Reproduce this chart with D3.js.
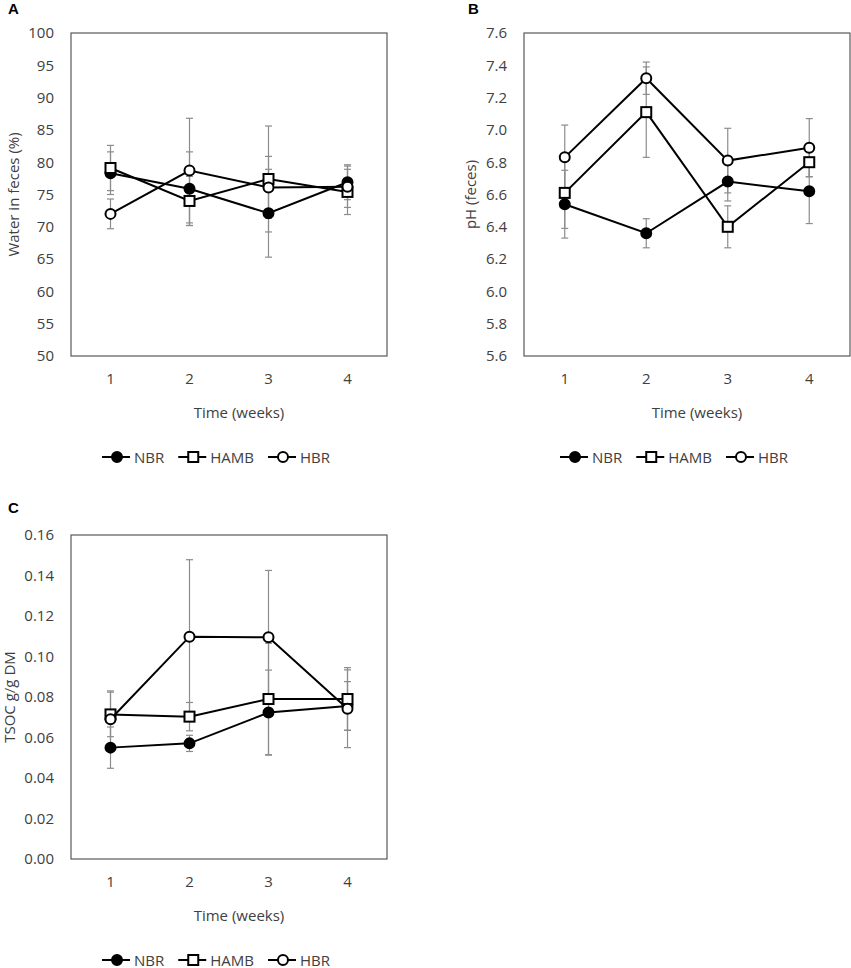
<!DOCTYPE html>
<html lang="en">
  <head>
    <meta charset="utf-8">
    <title>Feces water, pH and TSOC over time</title>
    <script type="text/javascript" src="https://cdnjs.cloudflare.com/ajax/libs/d3/7.8.5/d3.min.js"></script>
    <style>
      body { margin: 0; background: #fff; }
      svg text { font-family: "Open Sans", sans-serif; fill: #404040; }
      .panelTag { font-family: "Liberation Sans", Arial, sans-serif; font-weight: bold; fill: #000; }
    </style>
  </head>
  <body>
    <div id="chartDiv"></div>
    <script>
      var weeks = [1, 2, 3, 4]
      var seriesNames = ["NBR", "HAMB", "HBR"]

      // panel A - water in feces (%)
      var waterNBR = [78.3, 75.9, 72.1, 76.9]
      var waterHAMB = [79.1, 74.0, 77.4, 75.4]
      var waterHBR = [72.0, 78.7, 76.1, 76.2]
      var waterErrNBR = [3.3, 5.7, 6.8, 2.7]
      var waterErrHAMB = [3.5, 3.8, 8.2, 3.5]
      var waterErrHBR = [2.3, 8.1, 4.8, 3.2]
      var waterTicks = [50, 55, 60, 65, 70, 75, 80, 85, 90, 95, 100]

      // panel B - pH
      var phNBR = [6.54, 6.36, 6.68, 6.62]
      var phHAMB = [6.61, 7.11, 6.40, 6.80]
      var phHBR = [6.83, 7.32, 6.81, 6.89]
      var phErrNBR = [0.21, 0.09, 0.12, 0.20]
      var phErrHAMB = [0.22, 0.28, 0.13, 0.09]
      var phErrHBR = [0.20, 0.10, 0.20, 0.18]
      var phTicks = [5.6, 5.8, 6.0, 6.2, 6.4, 6.6, 6.8, 7.0, 7.2, 7.4, 7.6]

      // panel C - TSOC
      var tsocNBR = [0.055, 0.0571, 0.0723, 0.0756]
      var tsocHAMB = [0.0714, 0.0703, 0.079, 0.079]
      var tsocHBR = [0.069, 0.1098, 0.1095, 0.0742]
      var tsocErrNBR = [0.0102, 0.004, 0.021, 0.012]
      var tsocErrHAMB = [0.011, 0.007, 0.0275, 0.0155]
      var tsocErrHBR = [0.014, 0.038, 0.033, 0.0192]
      var tsocTicks = [0, 0.02, 0.04, 0.06, 0.08, 0.10, 0.12, 0.14, 0.16]

      var svg = d3.select("#chartDiv")
          .append("svg")
          .attr("width", 851)
          .attr("height", 968)

      var drawPanel = function(p) {
        var xScale = d3.scaleBand()
                       .domain(weeks)
                       .range([p.left, p.right])
        var yScale = d3.scaleLinear()
                       .domain([p.ticks[0], p.ticks[p.ticks.length - 1]])
                       .range([p.bottom, p.top])
        var cx = function(i) { return xScale(weeks[i]) + xScale.bandwidth() / 2 }

        var g = svg.append("g")

        g.append("text")
         .attr("class", "panelTag")
         .attr("x", p.tagX)
         .attr("y", p.tagY)
         .attr("font-size", "15px")
         .text(p.tag)

        // y axis labels only, no tick marks
        var yAxis = d3.axisLeft(yScale)
                      .tickValues(p.ticks)
                      .tickFormat(d3.format(p.fmt))
                      .tickSize(0)
                      .tickPadding(17)
        g.append("g")
         .attr("transform", "translate(" + p.left + ",0)")
         .call(yAxis)
         .call(function(ax) { ax.select(".domain").remove() })
         .selectAll("text")
         .attr("font-size", "15px")
         .attr("fill", "#404040")
         .style("font-family", "'Open Sans', sans-serif")

        var xAxis = d3.axisBottom(xScale)
                      .tickSize(0)
                      .tickPadding(17)
        g.append("g")
         .attr("transform", "translate(0," + p.bottom + ")")
         .call(xAxis)
         .call(function(ax) { ax.select(".domain").remove() })
         .selectAll("text")
         .attr("font-size", "15px")
         .attr("fill", "#404040")
         .style("font-family", "'Open Sans', sans-serif")

        g.append("rect")
         .attr("x", p.left)
         .attr("y", p.top)
         .attr("width", p.right - p.left)
         .attr("height", p.bottom - p.top)
         .attr("fill", "none")
         .attr("stroke", "#595959")
         .attr("stroke-width", 1.2)

        // rotated title, baseline at p.left - yLabOff
        g.append("text")
         .attr("transform", "translate(" + (p.left - p.yLabOff) + "," + ((p.top + p.bottom) / 2) + ") rotate(-90)")
         .attr("text-anchor", "middle")
         .attr("font-size", "15px")
         .text(p.yLabel)

        var midX = (p.left + p.right) / 2
        g.append("text")
         .attr("x", midX + 10)
         .attr("y", p.bottom + 62)
         .attr("text-anchor", "middle")
         .attr("font-size", "15px")
         .text("Time (weeks)")

        // error bars
        p.series.forEach(function(s) {
          s.vals.forEach(function(v, i) {
            var x = cx(i), y1 = yScale(v + s.err[i]), y0 = yScale(v - s.err[i])
            g.append("line").attr("x1", x).attr("x2", x).attr("y1", y1).attr("y2", y0)
             .attr("stroke", "#8c8c8c").attr("stroke-width", 1.2)
            ;[y1, y0].forEach(function(yy) {
              g.append("line").attr("x1", x - 3.5).attr("x2", x + 3.5).attr("y1", yy).attr("y2", yy)
               .attr("stroke", "#8c8c8c").attr("stroke-width", 1.2)
            })
          })
        })

        var line = d3.line()
                     .x(function(d, i) { return cx(i) })
                     .y(function(d) { return yScale(d) })

        p.series.forEach(function(s, k) {
          g.append("path")
           .datum(s.vals)
           .attr("d", line)
           .attr("fill", "none")
           .attr("stroke", "#000")
           .attr("stroke-width", 2)
          s.vals.forEach(function(v, i) {
            drawMarker(g, k, cx(i), yScale(v))
          })
        })

        // legend, measured then centred
        var leg = g.append("g")
        var xPos = 0
        seriesNames.forEach(function(name, k) {
          leg.append("line").attr("x1", xPos).attr("x2", xPos + 28).attr("y1", 0).attr("y2", 0)
             .attr("stroke", "#000").attr("stroke-width", 2)
          drawMarker(leg, k, xPos + 15, 0)
          var t = leg.append("text")
                     .attr("x", xPos + 32)
                     .attr("y", 5.5)
                     .attr("font-size", "15px")
                     .text(name)
          xPos += 32 + t.node().getComputedTextLength() + 14
        })
        var legW = xPos - 14
        leg.attr("transform", "translate(" + (midX - 13 - legW / 2) + "," + (p.bottom + 101) + ")")
      }

      var drawMarker = function(g, k, x, y) {
        if (k == 1) {
          g.append("rect").attr("x", x - 5).attr("y", y - 5).attr("width", 10).attr("height", 10)
           .attr("fill", "#fff").attr("stroke", "#000").attr("stroke-width", 2)
        } else {
          g.append("circle").attr("cx", x).attr("cy", y).attr("r", 5)
           .attr("fill", k == 0 ? "#000" : "#fff").attr("stroke", "#000").attr("stroke-width", 2)
        }
      }

      drawPanel({
        tag: "A", tagX: 8, tagY: 14,
        left: 71, right: 387, top: 33, bottom: 356,
        ticks: waterTicks, fmt: "d", yLabel: "Water in feces (%)", yLabOff: 52,
        series: [
          {vals: waterNBR, err: waterErrNBR},
          {vals: waterHAMB, err: waterErrHAMB},
          {vals: waterHBR, err: waterErrHBR}
        ]
      })

      drawPanel({
        tag: "B", tagX: 468, tagY: 14,
        left: 524, right: 850, top: 33, bottom: 356,
        ticks: phTicks, fmt: ".1f", yLabel: "pH (feces)", yLabOff: 48,
        series: [
          {vals: phNBR, err: phErrNBR},
          {vals: phHAMB, err: phErrHAMB},
          {vals: phHBR, err: phErrHBR}
        ]
      })

      drawPanel({
        tag: "C", tagX: 8, tagY: 513,
        left: 71, right: 387, top: 535, bottom: 859,
        ticks: tsocTicks, fmt: ".2f", yLabel: "TSOC g/g DM", yLabOff: 56,
        series: [
          {vals: tsocNBR, err: tsocErrNBR},
          {vals: tsocHAMB, err: tsocErrHAMB},
          {vals: tsocHBR, err: tsocErrHBR}
        ]
      })
    </script>
  </body>
</html>
